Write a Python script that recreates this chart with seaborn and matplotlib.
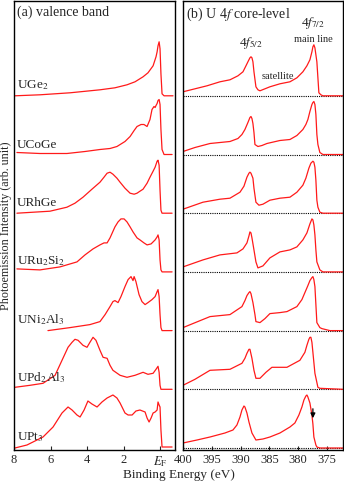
import matplotlib
matplotlib.use("Agg")
import matplotlib.pyplot as plt
import seaborn as sns
import pandas as pd
import numpy as np

# ---------------- data ----------------
compounds = ["UGe$_2$", "UCoGe", "URhGe", "URu$_2$Si$_2$", "UNi$_2$Al$_3$", "UPd$_2$Al$_3$", "UPt$_3$"]

# valence band: binding energy (eV) and intensity (arb. unit)
vb_UGe2_E = [7.95, 6.58, 4.93, 3.29, 2.47, 1.81, 1.37, 0.93, 0.66, 0.38, 0.22, 0.16, 0.11, 0.05, 0.0, -0.05, -0.11, -0.22, -0.71]
vb_UGe2_I = [0, 1, 3, 6, 8, 11, 14, 19, 23, 30, 39, 44, 50, 54, 47, 22, 2, 0, 0]

vb_UCoGe_E = [7.84, 6.58, 5.10, 4.11, 3.29, 2.74, 2.36, 1.92, 1.64, 1.42, 1.26, 1.04, 0.88, 0.71, 0.55, 0.44, 0.33, 0.27, 0.22, 0.16, 0.11, 0.05, 0.0, -0.05, -0.11, -0.22, -0.66]
vb_UCoGe_I = [2, 1, 1, 3, 5, 6, 8, 13, 18, 24, 28, 30, 30, 28, 35, 45, 48, 47, 49, 51, 54, 55, 50, 25, 5, 0, 0]

vb_URhGe_E = [7.84, 6.03, 5.10, 4.66, 4.22, 3.73, 3.29, 3.07, 2.90, 2.74, 2.58, 2.36, 2.19, 1.92, 1.64, 1.42, 1.26, 1.10, 0.93, 0.71, 0.55, 0.38, 0.27, 0.16, 0.11, 0.05, 0.0, -0.05, -0.11, -0.66]
vb_URhGe_I = [0, 2, 6, 10, 16, 24, 31, 36, 40, 41, 39, 35, 31, 25, 20, 19, 20, 22, 24, 30, 36, 42, 46, 52, 53, 48, 23, 3, 0, 0]

vb_URu2Si2_E = [7.84, 6.58, 5.48, 4.55, 4.11, 3.67, 3.29, 3.07, 2.90, 2.74, 2.47, 2.30, 2.14, 1.97, 1.81, 1.64, 1.48, 1.26, 1.10, 0.88, 0.71, 0.49, 0.27, 0.16, 0.11, 0.05, 0.0, -0.05, -0.11, -0.66]
vb_URu2Si2_I = [3, 2, 5, 10, 17, 23, 27, 29, 29, 34, 45, 50, 53, 53, 50, 45, 40, 34, 32, 29, 27, 28, 32, 35, 37, 32, 12, 2, 0, 0]

vb_UNi2Al3_E = [6.14, 4.93, 3.84, 3.29, 3.01, 2.74, 2.58, 2.47, 2.30, 2.14, 1.92, 1.75, 1.59, 1.48, 1.42, 1.32, 1.15, 0.99, 0.82, 0.66, 0.44, 0.27, 0.16, 0.11, 0.05, 0.0, -0.05, -0.11, -0.66]
vb_UNi2Al3_I = [0, 3, 6, 9, 16, 24, 29, 30, 28, 34, 44, 51, 54, 50, 54, 49, 36, 29, 26, 28, 31, 34, 39, 41, 34, 16, 3, 0, 0]

vb_UPd2Al3_E = [7.95, 7.12, 6.41, 5.75, 5.37, 5.04, 4.82, 4.66, 4.49, 4.22, 4.0, 3.84, 3.67, 3.51, 3.29, 3.12, 2.90, 2.74, 2.58, 2.19, 1.81, 1.37, 0.93, 0.66, 0.38, 0.22, 0.11, 0.05, 0.0, -0.05, -0.66]
vb_UPd2Al3_I = [2, 4, 6, 14, 29, 42, 47, 50, 49, 44, 42, 47, 52, 49, 39, 32, 31, 24, 19, 14, 12, 14, 17, 15, 16, 20, 23, 17, 4, 0, 0]

vb_UPt3_E = [7.95, 7.29, 6.41, 5.86, 5.37, 5.04, 4.82, 4.55, 4.38, 4.16, 3.95, 3.73, 3.45, 3.18, 2.90, 2.58, 2.36, 2.19, 1.92, 1.75, 1.53, 1.32, 1.10, 0.82, 0.71, 0.60, 0.49, 0.38, 0.27, 0.16, 0.11, 0.05, 0.0, -0.05, -0.11, -0.66]
vb_UPt3_I = [0, 3, 11, 21, 35, 41, 38, 33, 31, 38, 47, 44, 41, 46, 50, 53, 50, 45, 35, 33, 33, 37, 38, 36, 30, 26, 30, 35, 36, 38, 46, 43, 41, 18, 1, 1]

# U 4f core level
cl_UGe2_E = [400, 397.92, 395.83, 393.58, 391.84, 390.45, 389.58, 389.06, 388.72, 388.37, 388.19, 388.02, 387.85, 387.67, 387.33, 386.98, 386.63, 385.76, 384.90, 383.16, 381.42, 380.21, 379.17, 378.47, 377.95, 377.60, 377.43, 377.26, 377.08, 376.91, 376.74, 376.56, 376.39, 376.04, 375.69, 374.48, 372.22]
cl_UGe2_I = [4, 7, 10, 14, 16, 20, 24, 30, 34, 38, 39, 38, 34, 24, 9, 6, 5, 7, 9, 12, 14, 18, 24, 30, 36, 44, 49, 51, 48, 41, 34, 18, 3, 1, 0, 0, 0]

cl_UCoGe_E = [400, 397.92, 395.31, 391.84, 390.45, 389.76, 389.24, 388.72, 388.37, 388.19, 388.02, 387.85, 387.67, 387.5, 386.98, 386.28, 385.42, 383.16, 381.42, 380.21, 379.17, 378.65, 378.30, 377.95, 377.60, 377.43, 377.26, 377.08, 376.91, 376.74, 376.56, 376.22, 375.69, 372.22]
cl_UCoGe_I = [3, 7, 11, 13, 16, 20, 25, 32, 37, 38, 36, 31, 22, 10, 8, 9, 11, 14, 15, 19, 25, 30, 35, 43, 50, 52, 53, 50, 40, 20, 10, 2, 0, 0]

cl_URhGe_E = [400, 396.53, 393.58, 391.84, 390.10, 389.41, 388.89, 388.54, 388.37, 388.19, 387.85, 387.67, 387.33, 386.81, 386.11, 384.90, 383.16, 381.42, 380.21, 379.17, 378.65, 378.13, 377.78, 377.43, 377.26, 377.08, 376.91, 376.74, 376.56, 376.22, 375.69, 372.22]
cl_URhGe_I = [4, 11, 14, 15, 21, 27, 36, 40, 41, 40, 35, 25, 11, 8, 9, 13, 15, 16, 21, 28, 35, 45, 50, 52, 51, 46, 33, 13, 6, 1, 0, 0]

cl_URu2Si2_E = [400, 396.53, 393.58, 390.63, 389.58, 388.89, 388.54, 388.37, 388.19, 388.02, 387.67, 387.33, 386.98, 386.11, 384.90, 383.16, 381.42, 380.21, 379.17, 378.47, 377.95, 377.60, 377.43, 377.26, 377.08, 376.91, 376.74, 376.22, 375.69, 372.22]
cl_URu2Si2_I = [5, 12, 17, 19, 23, 29, 36, 40, 39, 34, 22, 10, 4, 6, 14, 20, 22, 25, 32, 39, 48, 53, 52, 47, 37, 22, 10, 2, 0, 0]

cl_UNi2Al3_E = [400, 395.31, 391.84, 389.76, 389.24, 388.89, 388.54, 388.37, 388.19, 387.85, 387.5, 387.33, 386.63, 385.76, 384.90, 383.16, 381.94, 380.21, 379.34, 378.82, 378.30, 377.95, 377.60, 377.43, 377.26, 377.08, 376.91, 376.74, 376.22, 375.87, 374.48, 372.22]
cl_UNi2Al3_I = [3, 14, 16, 24, 30, 35, 38, 39, 37, 28, 16, 9, 8, 12, 17, 18, 19, 24, 31, 38, 45, 50, 53, 54, 51, 44, 26, 8, 3, 2, 0, 0]

cl_UPd2Al3_E = [400, 397.92, 395.31, 391.84, 389.76, 389.24, 388.89, 388.54, 388.37, 388.02, 387.67, 387.33, 386.63, 385.59, 384.55, 381.94, 379.69, 378.82, 378.47, 378.13, 377.95, 377.78, 377.60, 377.43, 377.08, 376.56, 376.22, 372.22]
cl_UPd2Al3_I = [4, 10, 19, 20, 26, 31, 36, 40, 40, 31, 19, 11, 11, 17, 22, 22, 29, 37, 44, 50, 52, 52, 47, 37, 16, 2, 1, 0]

cl_UPt3_E = [400, 397.57, 395.31, 392.71, 391.32, 390.63, 390.10, 389.76, 389.41, 389.24, 388.89, 388.54, 388.02, 387.33, 386.11, 384.90, 383.16, 381.42, 380.56, 379.86, 379.34, 378.99, 378.65, 378.47, 378.30, 377.95, 377.60, 377.43, 377.26, 376.91, 376.74, 376.22, 372.22]
cl_UPt3_I = [5, 8, 11, 15, 18, 23, 31, 38, 42, 41, 35, 26, 15, 8, 9, 11, 15, 21, 25, 33, 41, 48, 52, 53, 51, 45, 33, 24, 11, 3, 1, 0, 0]

vb_E = [vb_UGe2_E, vb_UCoGe_E, vb_URhGe_E, vb_URu2Si2_E, vb_UNi2Al3_E, vb_UPd2Al3_E, vb_UPt3_E]
vb_I = [vb_UGe2_I, vb_UCoGe_I, vb_URhGe_I, vb_URu2Si2_I, vb_UNi2Al3_I, vb_UPd2Al3_I, vb_UPt3_I]
cl_E = [cl_UGe2_E, cl_UCoGe_E, cl_URhGe_E, cl_URu2Si2_E, cl_UNi2Al3_E, cl_UPd2Al3_E, cl_UPt3_E]
cl_I = [cl_UGe2_I, cl_UCoGe_I, cl_URhGe_I, cl_URu2Si2_I, cl_UNi2Al3_I, cl_UPd2Al3_I, cl_UPt3_I]

vb_ticks = [8, 6, 4, 2, 0]
vb_ticklabels = ["8", "6", "4", "2", "$E_{\\mathrm{F}}$"]
cl_ticks = [400, 395, 390, 385, 380, 375]

# ---------------- style ----------------
sns.set_style("ticks")
plt.rcParams["font.family"] = ["Liberation Serif", "DejaVu Serif"]
plt.rcParams["mathtext.fontset"] = "stix"
plt.rcParams["axes.linewidth"] = 1.0

SCALE = 58.7  # intensity units per stacking step
n = len(compounds)

def build(E_list, I_list):
    rows = []
    for k, (name, E, I) in enumerate(zip(compounds, E_list, I_list)):
        off = n - 1 - k
        for e, i in zip(E, I):
            rows.append({"E": e, "y": off + i / SCALE, "compound": name})
    return pd.DataFrame(rows)

df_vb = build(vb_E, vb_I)
df_cl = build(cl_E, cl_I)

fig = plt.figure(figsize=(3.44, 4.82), dpi=100)
W, H = 344, 482
ax1 = fig.add_axes([14 / W, 32 / H, 161 / W, 449 / H])
ax2 = fig.add_axes([183 / W, 32 / H, 160 / W, 449 / H])

sns.lineplot(data=df_vb, x="E", y="y", units="compound", estimator=None, sort=False,
             color="#ff1a1a", lw=0.9, ax=ax1, legend=False)
sns.lineplot(data=df_cl, x="E", y="y", units="compound", estimator=None, sort=False,
             color="#ff1a1a", lw=0.9, ax=ax2, legend=False)

ylim = (-2 / SCALE, 447 / SCALE)
ax1.set_xlim(8.0, -0.82)
ax2.set_xlim(400, 372.2)
for ax in (ax1, ax2):
    ax.set_ylim(*ylim)
    ax.set_yticks([])
    ax.set_xlabel("")
    ax.set_ylabel("")
    ax.tick_params(axis="x", direction="in", length=3, width=0.8, labelsize=9, pad=3)
    for s in ax.spines.values():
        s.set_visible(True)
        s.set_color("black")
        s.set_linewidth(1.0)

ax1.set_xticks(vb_ticks)
ax1.set_xticklabels(vb_ticklabels)
ax2.set_xticks(cl_ticks)

# dotted baselines in the core-level panel
for k in range(n):
    ax2.axhline(n - 1 - k, color="black", ls=(0, (1, 1)), lw=0.8, zorder=1)

# compound labels
for k, name in enumerate(compounds):
    off = n - 1 - k
    ax1.text(7.85, off + 4 / SCALE, name, fontsize=9.5, ha="left", va="bottom")

ax1.text(0.02, 0.99, "(a) valence band", transform=ax1.transAxes, fontsize=10, ha="left", va="top")
ax2.text(0.02, 0.99, "(b) U 4$f$ core-level", transform=ax2.transAxes, fontsize=10, ha="left", va="top")

ax2.text(388.2, 6 + 45 / SCALE, "4$f_{5/2}$", fontsize=9.5, ha="center", va="bottom")
ax2.text(377.4, 6 + 65 / SCALE, "4$f_{7/2}$", fontsize=9.5, ha="center", va="bottom")
ax2.text(377.4, 6 + 52 / SCALE, "main line", fontsize=7.5, ha="center", va="bottom")
ax2.text(383.5, 6 + 15 / SCALE, "satellite", fontsize=7.5, ha="center", va="bottom")

ax2.annotate("", xy=(377.43, 27 / SCALE), xytext=(377.43, 42 / SCALE),
             arrowprops=dict(arrowstyle="-|>", color="black", lw=0.9, mutation_scale=7))

fig.text(6 / W, 1 - 226 / H, "Photoemission Intensity (arb. unit)", rotation=90,
         fontsize=8.7, ha="center", va="center")
fig.text(179 / W, 1 - 475 / H, "Binding Energy (eV)", fontsize=9.5, ha="center", va="center")

fig.savefig("out.png", dpi=100)
